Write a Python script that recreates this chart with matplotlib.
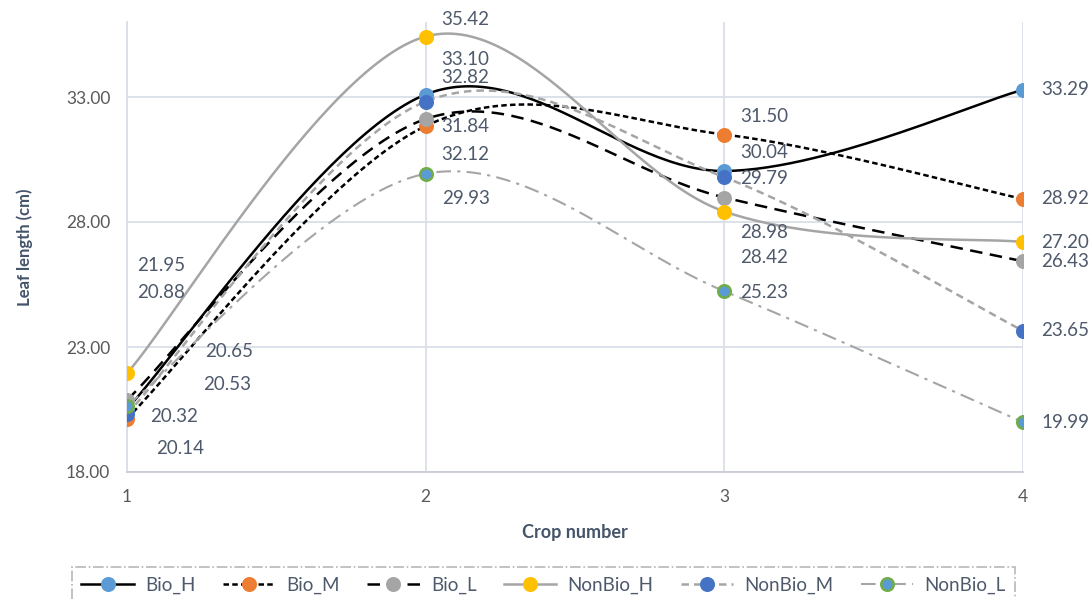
import numpy as np
import matplotlib
matplotlib.use("Agg")
import matplotlib.pyplot as plt
from matplotlib.lines import Line2D

plt.rcParams['font.family'] = ['Lato', 'DejaVu Sans']

crops = [1, 2, 3, 4]
series_names = ['Bio_H', 'Bio_M', 'Bio_L', 'NonBio_H', 'NonBio_M', 'NonBio_L']
bio_h = [20.53, 33.10, 30.04, 33.29]
bio_m = [20.14, 31.84, 31.50, 28.92]
bio_l = [20.88, 32.12, 28.98, 26.43]
nonbio_h = [21.95, 35.42, 28.42, 27.20]
nonbio_m = [20.32, 32.82, 29.79, 23.65]
nonbio_l = [20.65, 29.93, 25.23, 19.99]
values = [bio_h, bio_m, bio_l, nonbio_h, nonbio_m, nonbio_l]

# line / marker styles per series
line_colors = ['black', 'black', 'black', '#A5A5A5', '#A5A5A5', '#A5A5A5']
line_styles = ['-', (0, (2.2, 1.3)), (0, (5, 3)), '-', (0, (3, 2)), (0, (7, 3, 1.5, 3))]
line_widths = [1.8, 1.8, 1.8, 1.8, 1.8, 1.5]
marker_faces = ['#5B9BD5', '#ED7D31', '#A5A5A5', '#FFC000', '#4472C4', '#5B9BD5']
marker_edges = ['#5B9BD5', '#ED7D31', '#A5A5A5', '#FFC000', '#4472C4', '#70AD47']

# label offsets in pixels (dx, dy) for each point of each series
label_offsets = [
    [(76, 24), (16, 35), (16, 19), (18, 0)],
    [(29, -30), (16, -1), (16, 18), (18, 0)],
    [(10, 107), (16, -35), (16, -35), (18, 0)],
    [(10, 108), (16, 17), (16, -46), (18, 0)],
    [(23, -2), (16, 24), (16, -1), (18, 0)],
    [(78, 54), (16, -25), (16, -1), (18, 0)],
]

text_color = '#4E596B'
title_color = '#44546A'
grid_color = '#D9DEE8'


def smooth(xs, ys, n=60):
    # Catmull-Rom style cubic Bezier through every point
    p = np.column_stack([xs, ys]).astype(float)
    ext = np.vstack([p[0], p, p[-1]])
    t = np.linspace(0, 1, n)[:, None]
    out = []
    for i in range(len(p) - 1):
        p0, p3 = ext[i + 1], ext[i + 2]
        c1 = p0 + (ext[i + 2] - ext[i]) / 6
        c2 = p3 - (ext[i + 3] - ext[i + 1]) / 6
        seg = (1 - t) ** 3 * p0 + 3 * (1 - t) ** 2 * t * c1 + 3 * (1 - t) * t ** 2 * c2 + t ** 3 * p3
        out.append(seg if i == 0 else seg[1:])
    out = np.vstack(out)
    return out[:, 0], out[:, 1]


fig = plt.figure(figsize=(10.89, 5.99), dpi=100)
ax = fig.add_axes([127 / 1089, 1 - 472 / 599, (1023 - 127) / 1089, (472 - 22) / 599])

handles = []
for k, name in enumerate(series_names):
    sx, sy = smooth(crops, values[k])
    ax.plot(sx, sy, color=line_colors[k], linestyle=line_styles[k], lw=line_widths[k], zorder=3)
    ax.plot(crops, values[k], linestyle='none', marker='o', ms=9,
            mfc=marker_faces[k], mec=marker_edges[k], mew=1.8, zorder=4)
    for j, v in enumerate(values[k]):
        ax.annotate(f'{v:.2f}', (crops[j], v), xytext=label_offsets[k][j],
                    textcoords='offset pixels', ha='left', va='center',
                    fontsize=13.5, color=text_color, zorder=5)
    handles.append(Line2D([], [], color=line_colors[k], linestyle=line_styles[k], lw=line_widths[k],
                          marker='o', ms=9, mfc=marker_faces[k], mec=marker_edges[k], mew=1.8))

ax.set_xlim(1, 4)
ax.set_ylim(18, 36)
ax.set_xticks(crops)
ax.set_yticks([18, 23, 28, 33])
ax.set_yticklabels([f'{v:.2f}' for v in [18, 23, 28, 33]])
ax.grid(True, color=grid_color, lw=1.3)
ax.set_axisbelow(True)
for side in ['top', 'right']:
    ax.spines[side].set_visible(False)
ax.spines['left'].set_color(grid_color)
ax.spines['left'].set_linewidth(1.3)
ax.spines['bottom'].set_color('#C9CDD4')
ax.spines['bottom'].set_linewidth(1.3)
ax.tick_params(length=0, labelsize=12.5, labelcolor='#595959', pad=12)
ax.set_xlabel('Crop number', fontsize=13, fontweight='bold', color=title_color, labelpad=14)
ax.set_ylabel('Leaf length (cm)', fontsize=12, fontweight='bold', color=title_color, labelpad=24)

leg = fig.legend(handles, series_names, loc='upper left', ncol=6, mode='expand',
                 bbox_to_anchor=(72 / 1089, 1 - 567 / 599 - 0.1, (1015 - 72) / 1089, 0.1),
                 borderaxespad=0, fontsize=13.5, labelcolor=text_color, handlelength=2.8,
                 handletextpad=0.6, fancybox=False, borderpad=0.5, numpoints=1)
frame = leg.get_frame()
frame.set_edgecolor('#A5A5A5')
frame.set_linestyle('-.')
frame.set_linewidth(1.2)

fig.savefig('out.png', dpi=100)
